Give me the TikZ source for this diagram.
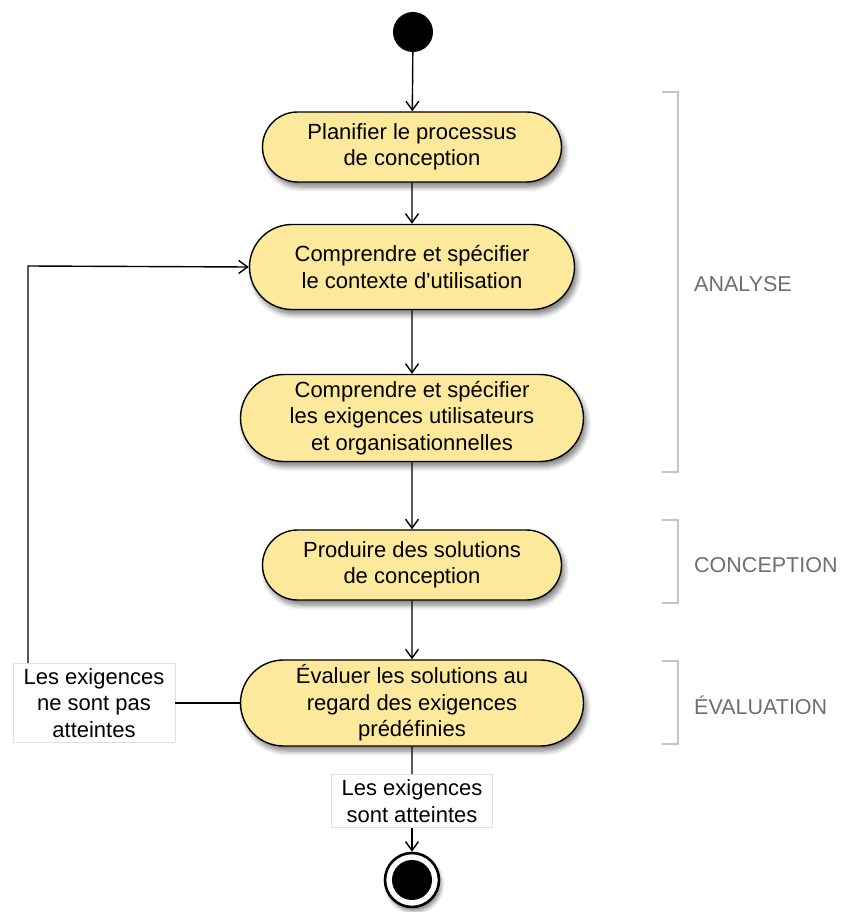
\documentclass[tikz,border=0pt]{standalone}
\usepackage{fontspec}
\setmainfont{Liberation Sans}
\usetikzlibrary{arrows.meta,shapes.misc,shadows.blur,positioning}
\definecolor{actfill}{HTML}{FDE99B}
\definecolor{brk}{HTML}{C4C4C4}
\definecolor{phasetxt}{HTML}{6E6E6E}
\begin{document}
\begin{tikzpicture}[x=1pt,y=-1pt,
  txt/.style={font=\fontsize{22}{26.5}\selectfont, align=center},
  activity/.style={txt, rounded rectangle, draw=black, line width=1.4pt, fill=actfill,
    inner sep=0pt, blur shadow={shadow xshift=3pt, shadow yshift=-5pt, shadow blur steps=6, shadow blur radius=5pt, shadow opacity=50}},
  guard/.style={txt, draw=black!12, fill=white, inner sep=0pt, line width=0.6pt},
  flow/.style={line width=1.4pt, -{Straight Barb[length=9pt,width=13pt,line width=1.4pt]}},
  plain/.style={line width=1.4pt},
  bracket/.style={draw=brk, line width=2pt},
  phase/.style={font=\fontsize{21.5}{26.5}\selectfont, text=phasetxt, anchor=west, inner sep=0pt}]
\useasboundingbox (0,0) rectangle (843,912);

% start and end states
\node[circle, fill=black, minimum size=40pt, inner sep=0pt] (start) at (413,32) {};

% activities
\node[activity, minimum width=299pt, minimum height=70pt] (plan) at (412,147)
  {Planifier le processus\\de conception};
\node[activity, minimum width=325pt, minimum height=85pt] (ctx) at (412,267)
  {Comprendre et spécifier\\le contexte d\textquotesingle utilisation};
\node[activity, minimum width=343pt, minimum height=87pt] (req) at (412,418)
  {Comprendre et spécifier\\les exigences utilisateurs\\et organisationnelles};
\node[activity, minimum width=299pt, minimum height=70pt] (sol) at (412,565)
  {Produire des solutions\\de conception};
\node[activity, minimum width=343pt, minimum height=86pt] (eval) at (412,703)
  {Évaluer les solutions au\\regard des exigences\\prédéfinies};

% guards
\node[guard, minimum width=161pt, minimum height=53pt] (ok) at (412,801)
  {Les exigences\\sont atteintes};
\node[guard, minimum width=162pt, minimum height=79pt] (nok) at (94,703)
  {Les exigences\\ne sont pas\\atteintes};

% final state
\node[circle, draw=black, line width=2.6pt, fill=white, minimum size=54pt, inner sep=0pt,
  blur shadow={shadow xshift=2pt, shadow yshift=-4pt, shadow blur steps=6, shadow blur radius=4pt, shadow opacity=50}] (final) at (412,880) {};
\node[circle, fill=black, minimum size=40pt, inner sep=0pt] (finaldot) at (final.center) {};

% control flow
\draw[flow] (start) -- (plan);
\draw[flow] (plan) -- (ctx);
\draw[flow] (ctx) -- (req);
\draw[flow] (req) -- (sol);
\draw[flow] (sol) -- (eval);
\draw[plain] (eval) -- (ok);
\draw[flow] (ok) -- (final);
\draw[plain] (eval.west) -- (nok.east);
\coordinate (looptop) at (28,663);
\draw[flow] (looptop) -- (28,266) -- (ctx.west);

% phase brackets
\draw[bracket] (662,92) -- (678,92) -- (678,472) -- (662,472);
\node[phase] (analyse) at (694,284) {ANALYSE};
\draw[bracket] (662,520) -- (678,520) -- (678,603) -- (662,603);
\node[phase] (conception) at (694,565) {CONCEPTION};
\draw[bracket] (662,661) -- (678,661) -- (678,744) -- (662,744);
\node[phase] (evaluation) at (694,705) {ÉVALUATION};
\end{tikzpicture}
\end{document}
